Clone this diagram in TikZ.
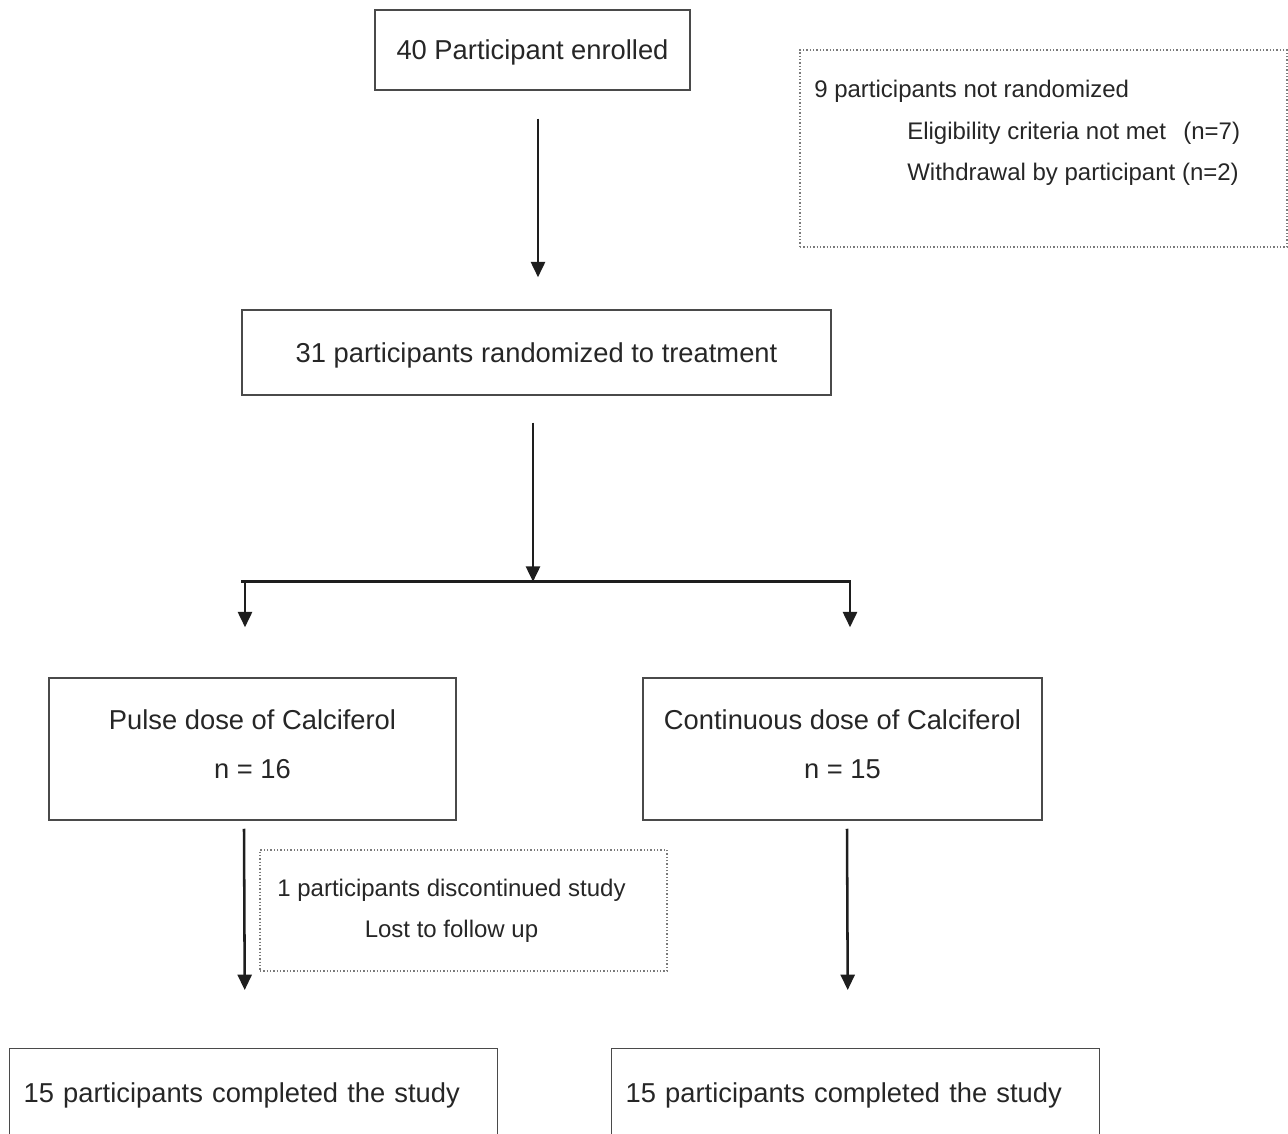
\documentclass[tikz,border=0pt]{standalone}
\usepackage{fontspec}
\setmainfont{Liberation Sans}
\usetikzlibrary{arrows.meta,calc}
\definecolor{boxgray}{HTML}{4A4A4A}
\definecolor{dotgray}{HTML}{7A7A7A}
\definecolor{txt}{HTML}{262626}
\definecolor{arrblack}{HTML}{1E1E1E}
\begin{document}
\begin{tikzpicture}[x=0.75pt,y=-0.75pt,
  box/.style={draw=boxgray, line width=1.1pt, text=txt, inner sep=0pt},
  dbox/.style={draw=dotgray, line width=1.1pt, dash pattern=on 0.9pt off 1.6pt, text=txt, inner sep=0pt},
  big/.style={font=\fontsize{20.5}{24}\selectfont, text depth=0pt},
  two/.style={align=center, font=\fontsize{20.5}{36.75}\selectfont, text depth=6.75pt},
  small/.style={font=\fontsize{18}{22}\selectfont, text=txt, inner sep=0pt, anchor=base west},
  arr/.style={draw=arrblack, line width=1.9pt, -{Triangle[width=10.5pt,length=11.5pt]}},
]
\useasboundingbox (0,0) rectangle (1288,1133);
\clip (0,0) rectangle (1288,1133);

% boxes
\node[box,big,minimum width=236.25pt,minimum height=60pt] (A) at (532.5,50) {40 Participant enrolled};
\node[dbox,minimum width=365.25pt,minimum height=147.75pt] (B) at (1043.5,148.5) {};
\node[small] (B1) at (814,97) {9 participants not randomized};
\node[small] (B2) at (907,139) {Eligibility criteria not met\hspace{13pt}(n=7)};
\node[small] (B3) at (907,180) {Withdrawal by participant (n=2)};
\node[box,big,minimum width=441.75pt,minimum height=63.75pt] (C) at (536.5,352.5) {31 participants randomized to treatment};
\node[box,two,minimum width=305.25pt,minimum height=106.5pt] (D) at (252.5,749) {Pulse dose of Calciferol\\n = 16};
\node[box,two,minimum width=299.25pt,minimum height=106.5pt] (E) at (842.5,749) {Continuous dose of Calciferol\\n = 15};
\node[dbox,align=center,font=\fontsize{18}{30.75}\selectfont,minimum width=305.25pt,minimum height=90.75pt] (F) at (463.5,910.5) {1 participants discontinued study\hspace*{18pt}\\Lost to follow up\hspace*{18pt}};
\node[box,big,anchor=north west,minimum height=66pt,text width=345pt,inner xsep=10.5pt,align=left] (G) at (9,1048) {15 participants completed the study};
\node[box,big,anchor=north west,minimum height=66pt,text width=345pt,inner xsep=10.5pt,align=left] (H) at (611,1048) {15 participants completed the study};

% connectors
\draw[arr] ($(A.south)+(5.5,28)$) -- ($(C.north)+(1.5,-32)$);
\coordinate (jM) at ($(C.south)+(-3.5,187)$);
\coordinate (jL) at ($(D.north)+(-7.5,-96)$);
\coordinate (jR) at ($(E.north)+(7.5,-96)$);
\draw[arr] ($(C.south)+(-3.5,27)$) -- ($(jM)+(0,-1)$);
\draw[draw=arrblack,line width=2.1pt] ($(jL)+(-4,0)$) -- ($(jR)+(0.8,0)$);
\draw[arr] ($(jL)+(0,-1)$) -- ($(D.north)+(-7.5,-50)$);
\draw[arr] ($(jR)+(0,-1)$) -- ($(E.north)+(7.5,-50)$);
\draw[arr] ($(D.south)+(-8.5,8)$) -- ($(G.north)+(-9,-58)$);
\draw[arr] ($(E.south)+(4.5,8)$) -- ($(H.north)+(-8,-58)$);
\end{tikzpicture}
\end{document}
